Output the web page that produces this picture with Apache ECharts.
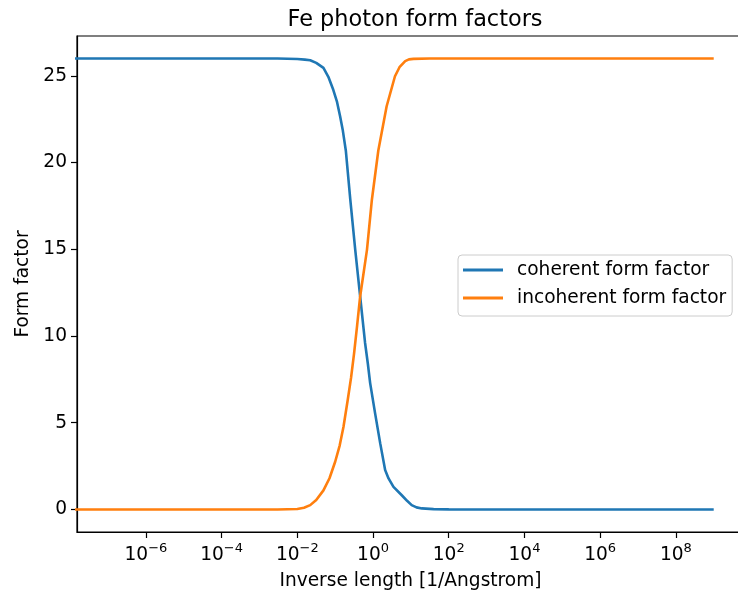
<!DOCTYPE html>
<html>
<head>
<meta charset="utf-8">
<title>Fe photon form factors</title>
<script src="https://cdn.jsdelivr.net/npm/echarts@6/dist/echarts.min.js"></script>
<style>
  html, body { margin: 0; padding: 0; background: #fff; }
  #main { width: 738px; height: 592px; }
</style>
</head>
<body>
<div id="main"></div>
<script>
// values (x in 1/Angstrom, log axis)
var cohX = [1e-9, 1e-7, 0.003, 0.01, 0.0158, 0.0219, 0.0316, 0.049, 0.066, 0.0891, 0.112, 0.135, 0.158, 0.191, 0.251, 0.339, 0.457, 0.617, 0.73, 0.838, 1.135, 1.55, 2.09, 2.57, 3.47, 5.75, 7.94, 10.5, 14.1, 19.5, 39.8, 100, 1e9];
var cohY = [26, 26, 26, 25.97, 25.94, 25.9, 25.75, 25.46, 24.95, 24.2, 23.5, 22.67, 21.9, 20.7, 17.86, 14.97, 12.28, 9.6, 8.4, 7.3, 5.54, 3.81, 2.27, 1.79, 1.3, 0.82, 0.5, 0.25, 0.12, 0.06, 0.02, 0.005, 0];

var incX = [1e-9, 1e-7, 0.003, 0.01, 0.015, 0.0219, 0.0316, 0.049, 0.0708, 0.1, 0.132, 0.166, 0.214, 0.263, 0.316, 0.38, 0.457, 0.692, 0.933, 1.38, 2.29, 3.8, 5.0, 7.08, 8.9, 11.7, 31.6, 1e9];
var incY = [0, 0, 0, 0.03, 0.1, 0.25, 0.55, 1.1, 1.8, 2.75, 3.7, 4.77, 6.3, 7.6, 9.0, 10.6, 12.28, 14.97, 17.86, 20.7, 23.25, 24.98, 25.5, 25.85, 25.95, 25.98, 26, 26];

var xTicks = [1e-6, 1e-4, 1e-2, 1, 1e2, 1e4, 1e6, 1e8];
var yTicks = [0, 5, 10, 15, 20, 25];

var seriesNames = ['coherent form factor', 'incoherent form factor'];

function pairs(xs, ys) {
  var out = [];
  for (var i = 0; i < xs.length; i++) out.push([xs[i], ys[i]]);
  return out;
}

function supLabel(v) {
  var e = Math.round(Math.log10(v));
  var s = e < 0 ? '\u2212' + (-e) : '' + e;
  return '{b|10}{s|' + s + '}';
}

var font = 'DejaVu Sans';
var fs = 18.6;

var option = {
  animation: false,
  backgroundColor: '#fff',
  title: {
    text: 'Fe photon form factors',
    left: 410,
    top: 4,
    textAlign: 'center',
    textStyle: { fontFamily: font, fontSize: 22.4, fontWeight: 'normal', color: '#000' }
  },
  legend: {
    orient: 'vertical',
    left: 458,
    top: 255,
    padding: [4, 6, 7, 5],
    itemGap: 6,
    itemWidth: 40,
    itemHeight: 2.8,
    icon: 'rect',
    borderColor: '#cccccc',
    borderWidth: 1,
    borderRadius: 4,
    backgroundColor: 'rgba(255,255,255,0.8)',
    data: seriesNames,
    textStyle: { fontFamily: font, fontSize: fs, color: '#000', lineHeight: 22, padding: [0, 0, 0, 9] }
  },
  grid: {
    left: 77,
    right: -6,
    top: 36,
    bottom: 60,
    show: true,
    borderColor: '#000',
    borderWidth: 1.2,
    outerBoundsMode: 'none',
    containLabel: false
  },
  xAxis: {
    type: 'log',
    logBase: 10,
    min: Math.pow(10, -7.82),
    max: Math.pow(10, 9.8),
    name: 'Inverse length [1/Angstrom]',
    nameLocation: 'middle',
    nameGap: 40,
    nameTextStyle: { fontFamily: font, fontSize: fs, color: '#000' },
    axisLine: { onZero: false, lineStyle: { color: '#000', width: 1.2 } },
    axisTick: { length: 6, lineStyle: { color: '#000', width: 1.2 }, customValues: xTicks },
    minorTick: { show: false },
    splitLine: { show: false },
    axisLabel: {
      customValues: xTicks,
      margin: 10,
      formatter: supLabel,
      rich: {
        b: { fontFamily: font, fontSize: fs, color: '#000', lineHeight: 26 },
        s: { fontFamily: font, fontSize: 13, color: '#000', verticalAlign: 'top', lineHeight: 15 }
      }
    }
  },
  yAxis: {
    type: 'value',
    min: -1.3,
    max: 27.3,
    name: 'Form factor',
    nameLocation: 'middle',
    nameGap: 44,
    nameTextStyle: { fontFamily: font, fontSize: fs, color: '#000' },
    axisLine: { show: true, onZero: false, lineStyle: { color: '#000', width: 1.2 } },
    axisTick: { show: true, length: 6, lineStyle: { color: '#000', width: 1.2 }, customValues: yTicks },
    splitLine: { show: false },
    axisLabel: {
      customValues: yTicks,
      margin: 10,
      fontFamily: font,
      fontSize: fs,
      color: '#000'
    }
  },
  series: [
    {
      name: seriesNames[0],
      type: 'line',
      showSymbol: false,
      color: '#1f77b4',
      lineStyle: { width: 2.6 },
      data: pairs(cohX, cohY)
    },
    {
      name: seriesNames[1],
      type: 'line',
      showSymbol: false,
      color: '#ff7f0e',
      lineStyle: { width: 2.6 },
      data: pairs(incX, incY)
    }
  ]
};

var chart = echarts.init(document.getElementById('main'));
chart.setOption(option);
</script>
</body>
</html>
